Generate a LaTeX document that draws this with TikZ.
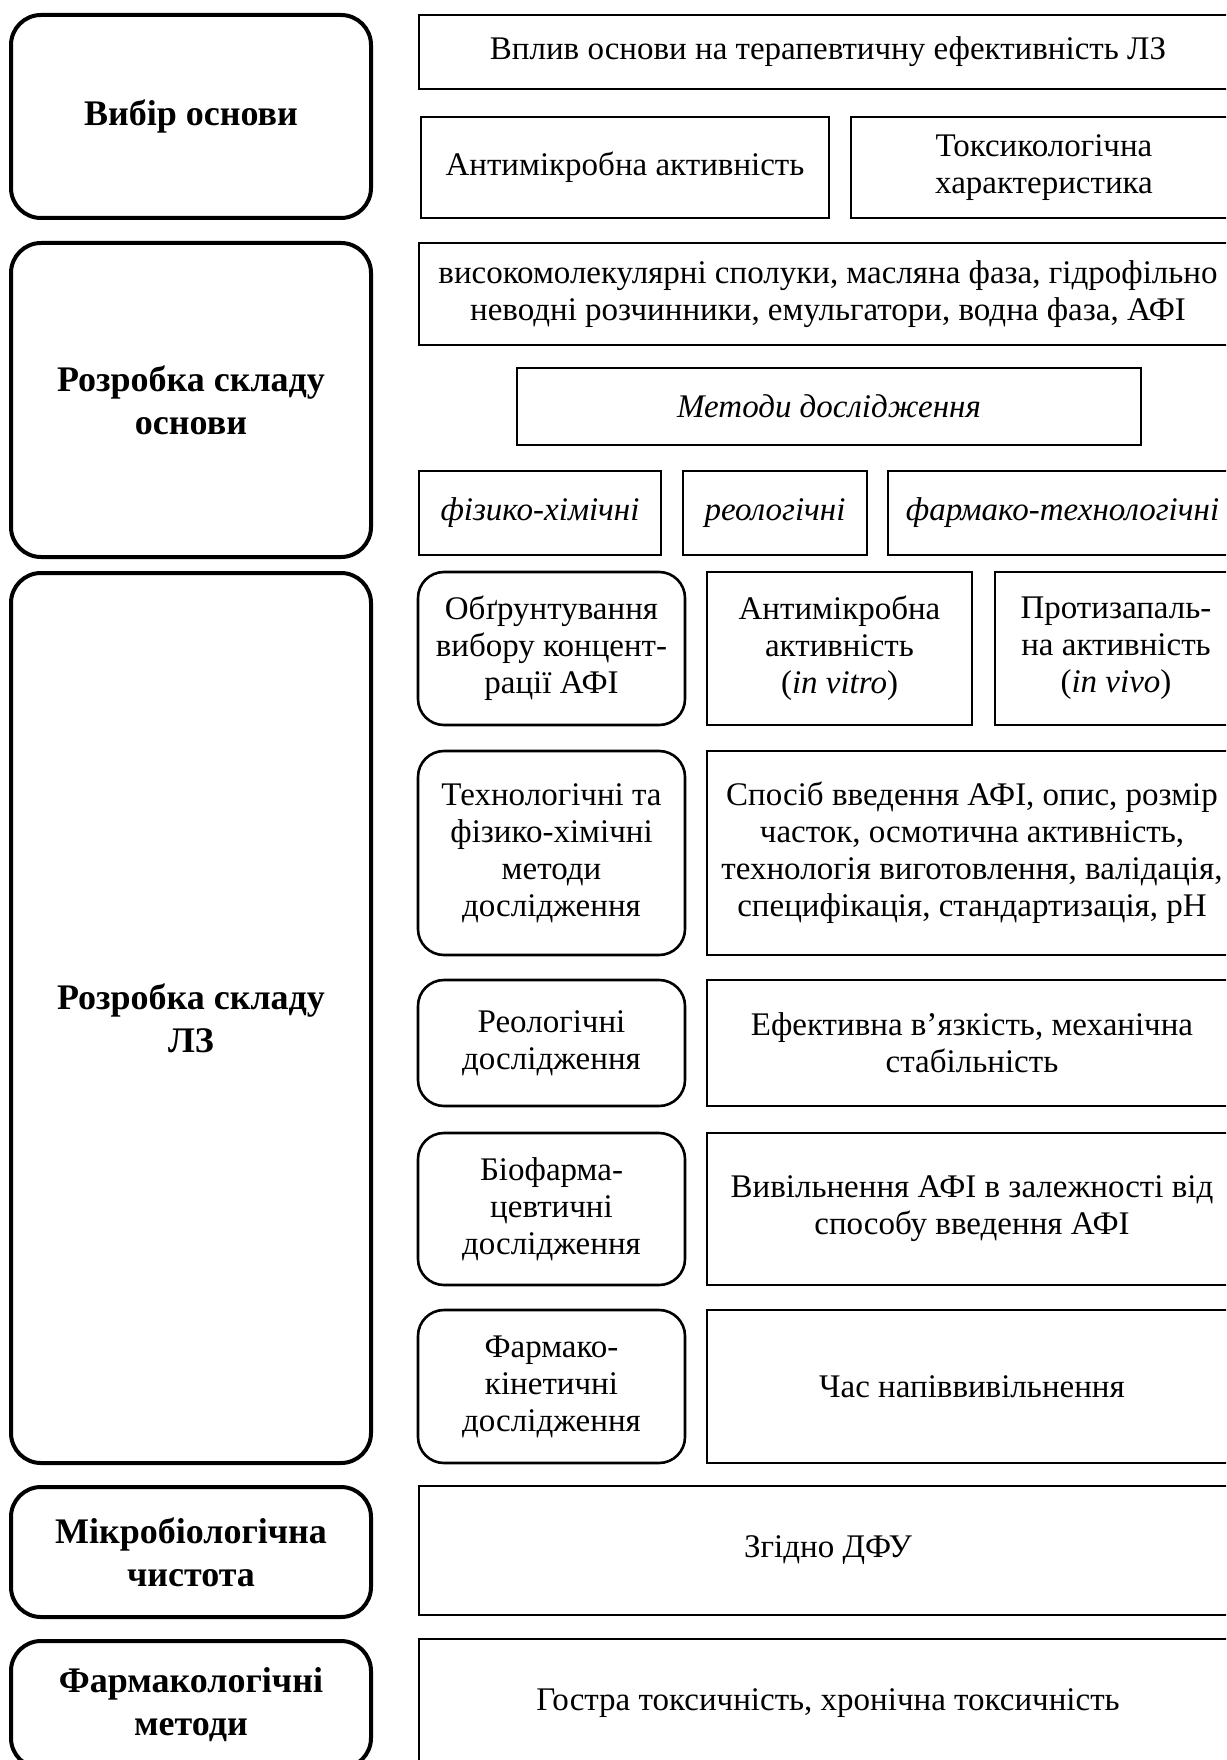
\documentclass[tikz,border=0pt]{standalone}
\usepackage{fontspec}
\setmainfont{Liberation Serif}
\usepackage{tikz}
\usetikzlibrary{positioning}
\tikzset{
  mainbox/.style  = {draw, line width=4pt, rounded corners=30pt, align=center,
                     inner sep=0pt, font=\fontsize{36}{43}\selectfont\bfseries},
  subbox/.style   = {draw, line width=2.6pt, rounded corners=26pt, align=center,
                     inner sep=0pt, font=\fontsize{33}{37}\selectfont},
  infobox/.style  = {draw, line width=2.6pt, rectangle, align=center,
                     inner sep=0pt, font=\fontsize{33}{37}\selectfont},
  sz/.style 2 args = {minimum width=#1pt, minimum height=#2pt},
}

\begin{document}
\begin{tikzpicture}[x=1pt,y=-1pt]
\useasboundingbox (0,0) rectangle (1226,1760);
\clip (0,0) rectangle (1226,1760);
% left column
\node[mainbox,sz={360}{203}] (vybir)  at (191,116.5) {Вибір основи};
\node[mainbox,sz={360}{314}] (rozosn) at (191,400)   {Розробка складу\\основи};
\node[mainbox,sz={360}{890}] (rozlz)  at (191,1018)  {Розробка складу\\ЛЗ};
\node[mainbox,sz={360}{130}] (mikro)  at (191,1552)  {Мікробіологічна\\чистота};
\node[mainbox,sz={360}{127}] (farmak) at (191,1704.5) {Фармакологічні\\методи};
% choice of base
\node[infobox,sz={818}{74}]  (vplyv) at (828,52)    {Вплив основи на терапевтичну ефективність ЛЗ};
\node[infobox,sz={408}{101}] (antim) at (625,167.5) {Антимікробна активність};
\node[infobox,sz={386}{101}] (toks)  at (1044,167.5) {Токсикологічна\\характеристика};
% base composition
\node[infobox,sz={818}{102}] (skl)   at (828,294)
  {високомолекулярні сполуки, масляна фаза, гідрофільно\\неводні розчинники, емульгатори, водна фаза, АФІ};
\node[infobox,sz={624}{77}]  (metody) at (829,406.5) {\textit{Методи дослідження}};
\node[infobox,sz={242}{84}]  (fizkh)  at (540,513)   {\textit{фізико-хімічні}};
\node[infobox,sz={184}{84}]  (reol)   at (775,513)   {\textit{реологічні}};
\node[infobox,sz={349}{84}]  (ftech)  at (1062.5,513) {\textit{фармако-технологічні}};
% drug composition
\node[subbox,sz={267}{153}]  (obgr)  at (551.5,648.5) {Обґрунтування\\вибору концент-\\рації АФІ};
\node[infobox,sz={265}{153}] (vitro) at (839.5,648.5) {Антимікробна\\активність\\(\textit{in vitro})};
\node[infobox,sz={242}{153}] (vivo)  at (1116,648.5)  {Протизапаль-\\на активність\\(\textit{in vivo})};
\node[subbox,sz={267}{204}]  (tekhn)  at (551.5,853) {Технологічні та\\фізико-хімічні\\методи\\дослідження};
\node[infobox,sz={530}{204}] (sposib) at (972,853)
  {Спосіб введення АФІ, опис, розмір\\часток, осмотична активність,\\технологія виготовлення, валідація,\\специфікація, стандартизація, pH};
\node[subbox,sz={267}{126}]  (reold) at (551.5,1043) {Реологічні\\дослідження};
\node[infobox,sz={530}{126}] (efekt) at (972,1043)   {Ефективна в’язкість, механічна\\стабільність};
\node[subbox,sz={267}{152}]  (biof)  at (551.5,1209) {Біофарма-\\цевтичні\\дослідження};
\node[infobox,sz={530}{152}] (vyvil) at (972,1209)   {Вивільнення АФІ в залежності від\\способу введення АФІ};
\node[subbox,sz={267}{153}]  (fkin)  at (551.5,1386.5) {Фармако-\\кінетичні\\дослідження};
\node[infobox,sz={530}{153}] (chas)  at (972,1386.5)   {Час напіввивільнення};
% purity and pharmacology
\node[infobox,sz={818}{129}] (zhidno) at (828,1550.5) {Згідно ДФУ};
\node[infobox,sz={818}{129}] (hostra) at (828,1703.5) {Гостра токсичність, хронічна токсичність};
\end{tikzpicture}
\end{document}
